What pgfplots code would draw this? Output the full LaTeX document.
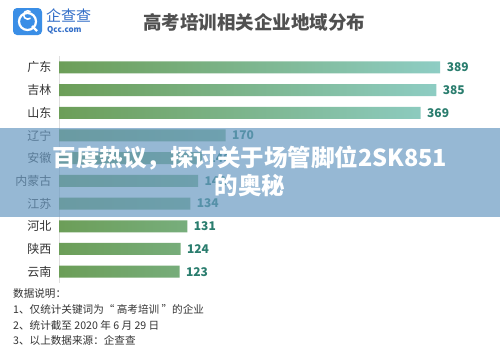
\documentclass[border=0pt]{standalone}
\usepackage{pgfplots}
\pgfplotsset{compat=1.18}
\usepackage{fontspec}
\setmainfont{Noto Sans CJK SC}
\definecolor{bargreen}{RGB}{108,158,88}
\definecolor{barteal}{RGB}{142,205,196}
\definecolor{valteal}{RGB}{42,125,110}
\definecolor{labgray}{RGB}{51,51,51}
\definecolor{titlegray}{RGB}{80,80,80}
\definecolor{logoblue}{RGB}{58,142,230}
\definecolor{logotext}{RGB}{50,110,200}
\definecolor{bandblue}{RGB}{106,154,194}
\begin{document}
\begin{tikzpicture}[x=1bp,y=-1bp]
\useasboundingbox[fill=white] (0,0) rectangle (500,346);
% logo
\fill[logoblue,rounded corners=4bp] (13,8) rectangle (42,35);
\draw[white,line width=2.2bp] (27.5,21.5) circle (8.5);
\draw[white,line width=1.6bp] (30.5,18.2) arc[start angle=50,end angle=310,radius=4.2];
\draw[white,line width=2.2bp] (32,26) -- (37,31);
\node[anchor=west,text=logotext,inner sep=0pt] at (46,15.5) {\fontsize{15bp}{15bp}\selectfont 企查查};
\node[anchor=west,text=logotext,inner sep=0pt] at (47,30) {\fontsize{8bp}{8bp}\selectfont\bfseries Qcc.com};
% title
\node[text=titlegray,inner sep=0pt] at (254,22) {\fontsize{18.5bp}{18.5bp}\selectfont\bfseries 高考培训相关企业地域分布};
\begin{axis}[
  at={(59bp,-56bp)}, anchor=north west,
  scale only axis, width=392bp, height=227bp,
  xmin=0, xmax=400, ymin=-0.5, ymax=9.5, y dir=reverse,
  axis line style={draw=none},
  xtick=\empty,
  ytick={0,1,2,3,4,5,6,7,8,9},
  yticklabels={广东,吉林,山东,辽宁,安徽,内蒙古,江苏,河北,陕西,云南},
  major tick length=0pt,
  yticklabel style={font=\fontsize{12bp}{12bp}\selectfont, text=labgray, xshift=-4bp},
  clip=false,
]
\draw[gray!25] (axis cs:0,-0.5) -- (axis cs:0,9.5);
\addplot[xbar, bar width=12bp, draw=none, left color=bargreen, right color=barteal, bar shift=0pt]
  coordinates {(389,0) (385,1) (369,2) (170,3) (146,4) (142,5) (134,6) (131,7) (124,8) (123,9)};
\addplot[only marks, mark=none, point meta=explicit symbolic, nodes near coords,
  every node near coord/.append style={anchor=west, xshift=3bp, text=valteal, font=\fontsize{12bp}{12bp}\selectfont\bfseries}]
  coordinates {(389,0) [389] (385,1) [385] (369,2) [369] (170,3) [170] (146,4) [146] (142,5) [142] (134,6) [134] (131,7) [131] (124,8) [124] (123,9) [123]};
\end{axis}
% overlay band
\fill[bandblue,opacity=0.7] (0,128) rectangle (500,217);
\node[text=white,align=center,inner sep=0pt,font=\fontsize{23.5bp}{28bp}\selectfont\bfseries] at (250,171) {百度热议，探讨关于场管脚位2SK851\\的奥秘};
% footnote
\begin{scope}[every node/.style={anchor=west,inner sep=0pt,text=labgray,font=\fontsize{10.6bp}{10.6bp}\selectfont}]
\node at (13,293) {数据说明：};
\node at (13,309) {1、仅统计关键词为“ 高考培训 ”的企业};
\node at (13,325) {2、统计截至 2020 年 6 月 29 日};
\node at (13,340) {3、以上数据来源：企查查};
\end{scope}
\end{tikzpicture}
\end{document}
